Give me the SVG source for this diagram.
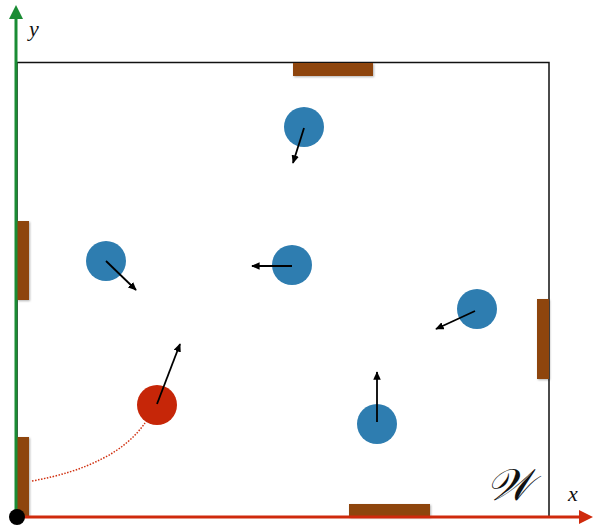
<svg xmlns="http://www.w3.org/2000/svg" width="594" height="527" viewBox="0 0 594 527">
<defs>
<style>
.wall{fill:#8E4409;}
.agent{fill:#2E7DB0;}
.vel{stroke:#000;stroke-width:1.8;fill:none;marker-end:url(#ah);}
.lbl{font-family:"Liberation Serif","DejaVu Serif",serif;font-style:italic;fill:#111;}
</style>
<marker id="ah" viewBox="0 0 10 10" refX="9" refY="5" markerWidth="8.5" markerHeight="7.5" orient="auto" markerUnits="userSpaceOnUse" preserveAspectRatio="none">
<path d="M0,0 L10,5 L0,10 z" fill="#000"/>
</marker>
<filter id="sh" x="-20%" y="-20%" width="150%" height="150%">
<feDropShadow dx="1" dy="1" stdDeviation="1" flood-color="#000" flood-opacity="0.3"/>
</filter>
</defs>
<rect width="594" height="527" fill="#fff"/>
<g id="world">
<polyline points="17,517 17,62.5 549,62.5 549,517" fill="none" stroke="#111" stroke-width="1.5"/>
</g>
<g id="walls" filter="url(#sh)">
<rect id="wall-top" class="wall" x="293" y="63" width="80" height="13"/>
<rect id="wall-left-upper" class="wall" x="17" y="221" width="12" height="79"/>
<rect id="wall-left-lower" class="wall" x="17" y="437" width="12" height="79"/>
<rect id="wall-right" class="wall" x="537" y="299" width="12" height="80"/>
<rect id="wall-bottom" class="wall" x="349" y="504" width="81" height="13"/>
</g>
<g id="axes">
<line x1="16" y1="517" x2="16" y2="18" stroke="#1A8C34" stroke-width="3"/>
<path d="M16,5 L23,19 L9,19 z" fill="#1A8C34"/>
<line x1="16" y1="517" x2="579" y2="517" stroke="#CF2A0C" stroke-width="3"/>
<path d="M593,517 L579,510 L579,524 z" fill="#CF2A0C"/>
<circle cx="17" cy="517" r="8" fill="#000"/>
</g>
<g id="labels">
<text class="lbl" x="29" y="36" font-size="22">y</text>
<text class="lbl" x="568" y="501" font-size="22">x</text>
<text class="lbl" x="486" y="500" font-size="44" font-family="DejaVu Serif">𝒲</text>
</g>
<g id="agent-1"><circle class="agent" cx="304" cy="127" r="20"/></g>
<g id="agent-2"><circle class="agent" cx="106" cy="261" r="20"/></g>
<g id="agent-3"><circle class="agent" cx="292" cy="265" r="20"/></g>
<g id="agent-4"><circle class="agent" cx="477" cy="309" r="20"/></g>
<g id="agent-5"><circle class="agent" cx="377" cy="424" r="20"/></g>
<g id="robot"><circle cx="157" cy="405" r="20" fill="#C62608"/></g>
<g id="connectors">
<path d="M32,481 Q115,466 145,423" fill="none" stroke="#D03010" stroke-width="1.5" stroke-dasharray="1.5,1.5"/>
<line class="vel" x1="304" y1="128" x2="293" y2="163"/>
<line class="vel" x1="106" y1="261" x2="136" y2="290"/>
<line class="vel" x1="292" y1="266" x2="252" y2="266"/>
<line class="vel" x1="475" y1="311" x2="436" y2="329"/>
<line class="vel" x1="377" y1="422" x2="377" y2="372"/>
<line class="vel" x1="157" y1="404" x2="180" y2="344"/>
</g>
</svg>
